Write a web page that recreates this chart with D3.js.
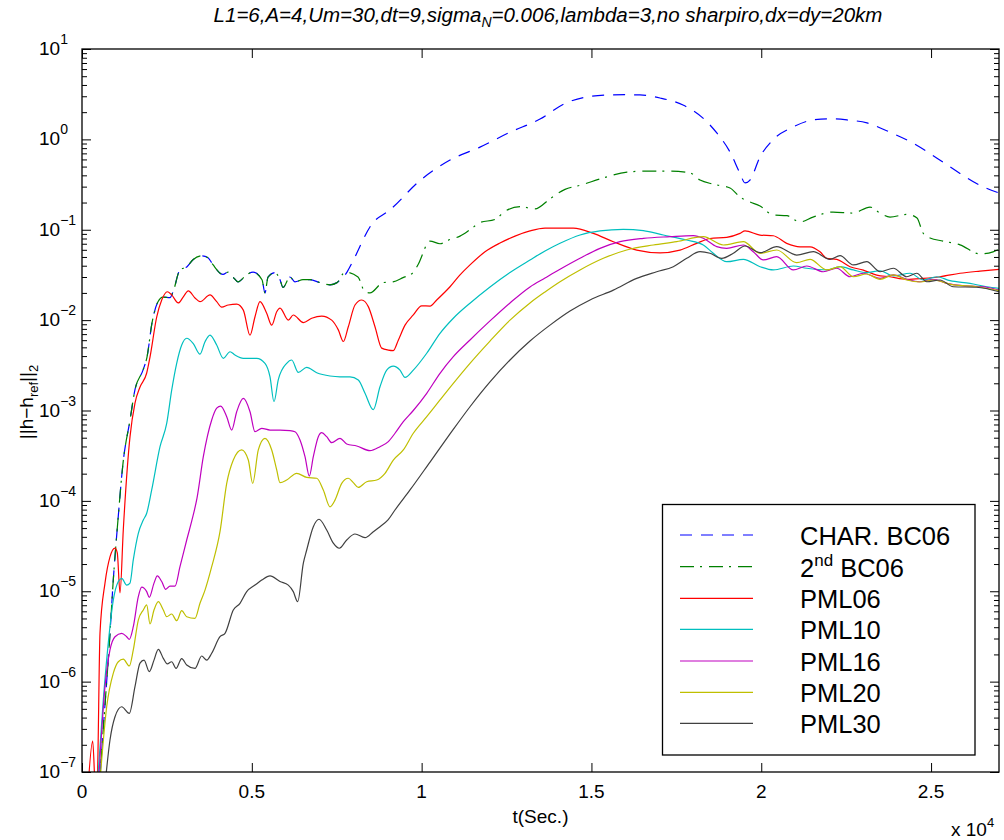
<!DOCTYPE html>
<html><head><meta charset="utf-8">
<script src="https://cdn.jsdelivr.net/npm/d3@7"></script>
<style>
body{margin:0;background:#fff}
svg{display:block}
text{font-family:"Liberation Sans",Arial,Helvetica,sans-serif;fill:#000}
</style>
</head><body>
<svg id="chart" width="1004" height="840"></svg>
<script>
// ---------- data (t in seconds, value = ||h-h_ref||_2) ----------
const xTickValues = [0, 5000, 10000, 15000, 20000, 25000];
const xTickLabels = ["0", "0.5", "1", "1.5", "2", "2.5"];
const yTickExponents = [-7, -6, -5, -4, -3, -2, -1, 0, 1];
const seriesNames = ["CHAR. BC06", "2nd BC06", "PML06", "PML10", "PML16", "PML20", "PML30"];

// common early part of the two BC06 runs
const bcEarly = [[500,6e-8],[618,2.7e-7],[824,3.4e-6],[913,1.2e-5],[1060,6.2e-5],[1207,2.6e-4],[1413,7.8e-4],[1560,1.7e-3],[1796,2.8e-3],[1914,3.9e-3],[2061,9.3e-3],[2238,1.6e-2],[2385,1.8e-2],[2591,1.77e-2],[2680,2.05e-2],[2885,3.6e-2],[3092,3.9e-2],[3268,4.66e-2],[3533,5.15e-2],[3710,4.9e-2],[3857,4.1e-2],[4152,3.2e-2],[4299,3.4e-2],[4446,3.0e-2],[4593,2.65e-2],[4858,3.2e-2],[5035,3.4e-2],[5300,2.8e-2],[5388,2.0e-2],[5477,3.0e-2],[5683,3.35e-2],[5830,2.8e-2],[5918,2.3e-2],[6124,3.0e-2],[6271,2.65e-2],[6507,2.8e-2],[6713,2.8e-2],[7008,2.6e-2],[7302,2.46e-2],[7508,2.6e-2]];
const charTail = [[7803,3.4e-2],[7950,4.3e-2],[8539,0.116],[9069,0.166],[9952,0.35],[10836,0.59],[11719,0.82],[12602,1.2],[13486,1.68],[14222,2.5],[14870,2.95],[15547,3.1],[16047,3.12],[16430,3.1],[17019,2.87],[17696,2.4],[18285,1.72],[18697,1.17],[19080,0.725],[19375,0.42],[19522,0.33],[19669,0.355],[19964,0.64],[20346,0.99],[20935,1.37],[21524,1.64],[22024,1.69],[22525,1.64],[23114,1.52],[23791,1.2],[24468,0.91],[25175,0.62],[25852,0.42],[26441,0.31],[27000,0.255]];
const secondTail = [[7744,3.4e-2],[8127,3.0e-2],[8333,2.05e-2],[8480,2.0e-2],[8863,2.6e-2],[9157,2.65e-2],[9452,2.95e-2],[9746,3.35e-2],[9893,4.1e-2],[10247,7.5e-2],[10541,7.0e-2],[10836,7.8e-2],[11130,8.5e-2],[11424,0.1],[11719,0.12],[12160,0.13],[12455,0.16],[12897,0.18],[13338,0.17],[13780,0.22],[14222,0.28],[14663,0.31],[15340,0.374],[16047,0.435],[16636,0.445],[17313,0.445],[17902,0.425],[18197,0.355],[18579,0.32],[19080,0.29],[19375,0.23],[19669,0.203],[19964,0.183],[20346,0.146],[20758,0.143],[21141,0.122],[21524,0.138],[22113,0.157],[22701,0.153],[23202,0.178],[23497,0.153],[23791,0.138],[24292,0.148],[24586,0.135],[24763,0.092],[24969,0.081],[25352,0.075],[25852,0.068],[26441,0.054],[26824,0.057],[27000,0.061]];
const pml06 = [[170,6e-8],[315,2.2e-7],[400,6e-8],[450,8e-8],[530,3.45e-6],[677,1.23e-5],[824,2.4e-5],[972,3.0e-5],[1039,2.65e-5],[1119,9.6e-6],[1216,4.8e-5],[1413,5.1e-4],[1560,1.21e-3],[1708,1.82e-3],[1905,2.6e-3],[2002,3.9e-3],[2199,1.08e-2],[2347,1.67e-2],[2512,2.06e-2],[2641,1.9e-2],[2835,1.55e-2],[2983,1.81e-2],[3130,2.11e-2],[3327,1.76e-2],[3474,1.6e-2],[3769,1.9e-2],[3966,1.6e-2],[4113,1.39e-2],[4308,1.47e-2],[4555,1.5e-2],[4750,1.29e-2],[4947,6.8e-3],[5094,1.09e-2],[5241,1.6e-2],[5438,1.19e-2],[5586,8.8e-3],[5733,1.24e-2],[5830,1.36e-2],[6074,1.0e-2],[6221,1.14e-2],[6516,9.4e-3],[6763,1.05e-2],[7058,1.11e-2],[7352,1.0e-2],[7547,7.8e-3],[7694,5.8e-3],[7841,8.45e-3],[8038,1.47e-2],[8236,1.67e-2],[8430,1.41e-2],[8627,8.45e-3],[8824,4.9e-3],[9019,4.66e-3],[9166,4.6e-3],[9313,6.0e-3],[9511,8.8e-3],[9755,1.14e-2],[10002,1.44e-2],[10247,1.43e-2],[10444,1.67e-2],[10836,2.34e-2],[11130,3.16e-2],[11424,4.08e-2],[11866,5.7e-2],[12308,7.13e-2],[12749,8.5e-2],[13191,9.7e-2],[13633,0.104],[14075,0.104],[14467,0.104],[15055,9.12e-2],[15644,7.37e-2],[16333,5.96e-2],[17019,5.56e-2],[17608,5.96e-2],[18099,7.07e-2],[18491,8.0e-2],[18982,8.24e-2],[19375,9.12e-2],[19522,9.7e-2],[19964,8.74e-2],[20355,8.58e-2],[20749,7.07e-2],[21141,6.48e-2],[21436,6.48e-2],[21730,5.7e-2],[21927,4.83e-2],[22222,4.7e-2],[22613,3.9e-2],[23005,3.58e-2],[23400,3.15e-2],[23791,3.02e-2],[24282,2.83e-2],[24771,2.9e-2],[25263,3.02e-2],[25852,3.3e-2],[26441,3.49e-2],[27000,3.65e-2]];
const pml10 = [[460,8e-8],[627,6.26e-7],[774,2.68e-6],[922,8.0e-6],[1069,1.28e-5],[1169,1.39e-5],[1316,1.17e-5],[1413,1.23e-5],[1510,2.22e-5],[1658,4.38e-5],[1805,6.15e-5],[1905,7.3e-5],[2052,1.32e-4],[2297,3.98e-4],[2494,7.2e-4],[2641,1.68e-3],[2788,3.33e-3],[2936,5.3e-3],[3083,6.3e-3],[3277,5.5e-3],[3474,4.2e-3],[3622,5.77e-3],[3769,6.84e-3],[3966,5.3e-3],[4161,3.78e-3],[4358,4.47e-3],[4505,4.11e-3],[4750,3.78e-3],[5144,3.78e-3],[5388,3.33e-3],[5536,2.36e-3],[5653,1.25e-3],[5780,2.2e-3],[6027,3.33e-3],[6174,3.62e-3],[6369,2.64e-3],[6616,3.0e-3],[6911,2.62e-3],[7302,2.41e-3],[7597,2.36e-3],[7891,2.36e-3],[8136,2.17e-3],[8333,1.55e-3],[8577,1.02e-3],[8774,1.83e-3],[8972,2.8e-3],[9166,3.1e-3],[9363,2.8e-3],[9511,2.33e-3],[9755,2.8e-3],[10150,4.3e-3],[10541,7.14e-3],[10933,1.05e-2],[11424,1.54e-2],[12013,2.33e-2],[12602,3.37e-2],[13191,4.63e-2],[13633,5.82e-2],[14075,7.08e-2],[14663,8.75e-2],[15252,9.7e-2],[15938,0.101],[16527,9.76e-2],[17116,8.75e-2],[17805,7.7e-2],[18294,6.78e-2],[18588,5.49e-2],[18982,4.43e-2],[19471,4.7e-2],[19964,3.9e-2],[20355,3.59e-2],[20944,3.97e-2],[21339,3.75e-2],[21927,3.59e-2],[22319,3.9e-2],[22711,3.59e-2],[23105,3.35e-2],[23497,3.52e-2],[23889,3.08e-2],[24380,3.3e-2],[24772,2.78e-2],[25166,3.02e-2],[25558,2.73e-2],[26147,2.55e-2],[26639,2.34e-2],[27000,2.25e-2]];
const pml16 = [[490,8e-8],[677,8.8e-7],[824,2.24e-6],[972,3.14e-6],[1169,3.42e-6],[1316,3.14e-6],[1393,2.94e-6],[1510,4.05e-6],[1658,8.7e-6],[1758,1.11e-5],[1905,9.9e-6],[1982,8.57e-6],[2120,1.23e-5],[2217,1.48e-5],[2347,1.28e-5],[2465,1.05e-5],[2591,1.14e-5],[2738,1.14e-5],[2885,1.87e-5],[3083,3.69e-5],[3239,6.15e-5],[3386,1.07e-4],[3572,3.08e-4],[3819,7.85e-4],[3966,1.06e-3],[4084,1.12e-3],[4261,8.54e-4],[4408,6.08e-4],[4555,9.7e-4],[4750,1.36e-3],[4947,9.7e-4],[5094,5.83e-4],[5291,6.35e-4],[5536,6.08e-4],[5830,6.08e-4],[6124,6.0e-4],[6271,5.83e-4],[6419,4.72e-4],[6566,3.08e-4],[6693,1.88e-4],[6811,3.08e-4],[6958,5.13e-4],[7058,5.68e-4],[7205,5.13e-4],[7352,4.4e-4],[7597,4.92e-4],[7794,4.26e-4],[8089,4.05e-4],[8480,3.59e-4],[8774,3.98e-4],[9019,4.52e-4],[9216,5.6e-4],[9461,7.52e-4],[9755,1.0e-3],[10150,1.55e-3],[10541,2.58e-3],[10933,3.94e-3],[11424,6.03e-3],[12013,9.8e-3],[12602,1.55e-2],[13191,2.33e-2],[13633,2.92e-2],[14075,3.65e-2],[14663,4.83e-2],[15252,6.23e-2],[15841,7.38e-2],[16527,8.04e-2],[17313,8.38e-2],[17999,8.6e-2],[18294,8.04e-2],[18688,6.5e-2],[18982,6.23e-2],[19471,6.78e-2],[19765,5.72e-2],[20060,4.63e-2],[20454,5.03e-2],[20944,3.59e-2],[21339,3.97e-2],[21827,3.43e-2],[22222,3.75e-2],[22613,3.02e-2],[23005,3.3e-2],[23497,2.9e-2],[23889,3.16e-2],[24282,2.83e-2],[24674,2.66e-2],[25066,2.83e-2],[25460,2.55e-2],[26049,2.39e-2],[26638,2.31e-2],[27000,2.15e-2]];
const pml20 = [[530,8e-8],[727,5.27e-7],[922,1.24e-6],[1069,1.66e-6],[1216,1.77e-6],[1393,1.49e-6],[1510,2.24e-6],[1658,4.8e-6],[1805,6.2e-6],[1905,7.05e-6],[2002,4.34e-6],[2120,6.2e-6],[2247,7.66e-6],[2394,6.2e-6],[2494,5.23e-6],[2641,5.6e-6],[2788,4.72e-6],[2936,6.09e-6],[3083,5.23e-6],[3327,5.02e-6],[3474,7.36e-6],[3622,1.03e-5],[3819,1.87e-5],[4063,4.56e-5],[4261,1.56e-4],[4455,2.83e-4],[4702,3.66e-4],[4897,2.83e-4],[5026,1.56e-4],[5191,3.66e-4],[5388,4.92e-4],[5586,3.66e-4],[5733,2.2e-4],[5830,1.59e-4],[6027,1.7e-4],[6321,2.02e-4],[6616,1.82e-4],[6911,1.78e-4],[7105,1.32e-4],[7302,8.6e-5],[7449,1.02e-4],[7647,1.56e-4],[7841,1.78e-4],[7988,1.59e-4],[8136,1.41e-4],[8383,1.63e-4],[8677,1.7e-4],[8922,2.02e-4],[9166,2.83e-4],[9461,3.66e-4],[9755,5.6e-4],[10150,8.54e-4],[10541,1.31e-3],[10933,2.0e-3],[11424,3.33e-3],[12013,5.87e-3],[12602,1.0e-2],[13191,1.55e-2],[13633,2.05e-2],[14075,2.66e-2],[14663,3.59e-2],[15350,4.83e-2],[16038,5.97e-2],[16822,6.78e-2],[17510,7.38e-2],[18294,8.38e-2],[18883,6.78e-2],[19471,7.38e-2],[19964,5.49e-2],[20455,5.97e-2],[21044,4.32e-2],[21436,4.7e-2],[21927,3.59e-2],[22319,3.9e-2],[22711,3.02e-2],[23105,3.24e-2],[23497,2.83e-2],[23889,3.16e-2],[24282,2.78e-2],[24674,2.64e-2],[25066,2.78e-2],[25655,2.45e-2],[26344,2.34e-2],[27000,2.12e-2]];
const pml30 = [[690,8e-8],[824,2.26e-7],[972,4.09e-7],[1169,5.27e-7],[1393,4.46e-7],[1560,8.8e-7],[1708,1.6e-6],[1826,1.73e-6],[1982,1.29e-6],[2120,1.73e-6],[2247,2.28e-6],[2394,1.81e-6],[2512,1.57e-6],[2641,1.66e-6],[2768,1.4e-6],[2936,1.8e-6],[3083,1.53e-6],[3327,1.4e-6],[3524,1.92e-6],[3672,1.73e-6],[3819,2.06e-6],[4063,3.14e-6],[4211,3.42e-6],[4455,6.2e-6],[4652,7.36e-6],[4850,9.9e-6],[5094,1.17e-5],[5291,1.33e-5],[5536,1.48e-5],[5830,1.28e-5],[6074,1.17e-5],[6221,9.9e-6],[6351,7.66e-6],[6516,2.04e-5],[6616,2.86e-5],[6811,5.18e-5],[6978,6.26e-5],[7205,4.76e-5],[7400,3.4e-5],[7576,2.99e-5],[7794,3.69e-5],[8038,4.3e-5],[8333,3.92e-5],[8577,4.56e-5],[8774,5.18e-5],[9010,6.15e-5],[9216,7.93e-5],[9658,1.32e-4],[10247,2.69e-4],[10836,5.5e-4],[11424,1.1e-3],[12013,2.07e-3],[12602,3.62e-3],[13191,5.87e-3],[13780,8.8e-3],[14369,1.26e-2],[14958,1.67e-2],[15644,2.15e-2],[16333,2.9e-2],[16922,3.43e-2],[17411,3.9e-2],[17805,4.83e-2],[18197,5.72e-2],[18491,5.49e-2],[18835,4.83e-2],[19177,5.49e-2],[19522,6.61e-2],[19964,5.57e-2],[20455,6.5e-2],[21044,5.25e-2],[21533,5.72e-2],[22024,4.7e-2],[22319,5.16e-2],[22711,4.08e-2],[23105,4.43e-2],[23497,3.43e-2],[23889,3.75e-2],[24282,3.02e-2],[24577,3.3e-2],[24871,2.66e-2],[25263,2.78e-2],[25655,2.34e-2],[26344,2.31e-2],[27000,2.06e-2]];

// ---------- styles ----------
const seriesData = [bcEarly.concat(charTail), bcEarly.concat(secondTail), pml06, pml10, pml16, pml20, pml30];
const seriesColors = ["#0000ff", "#008000", "#ff0000", "#00bfbf", "#bf00bf", "#bfbf00", "#404040"];
const seriesDash = ["12,9", "14,6,2,7", null, null, null, null, null];

const svg = d3.select("#chart");
const L = 82, R = 999, T = 49, B = 772;
const x = d3.scaleLinear().domain([0, 27000]).range([L, R]);
const y = d3.scaleLog().domain([1e-7, 10]).range([B, T]);

svg.append("defs").append("clipPath").attr("id", "plotclip")
  .append("rect").attr("x", L).attr("y", T).attr("width", R - L).attr("height", B - T);

// lines
const line = d3.line().x(d => x(d[0])).y(d => y(d[1])).curve(d3.curveMonotoneX);
const lg = svg.append("g").attr("clip-path", "url(#plotclip)");
seriesData.forEach((s, i) => {
  lg.append("path").attr("d", line(s)).attr("fill", "none")
    .attr("stroke", seriesColors[i]).attr("stroke-width", 1.2)
    .attr("stroke-dasharray", seriesDash[i]);
});

// axes with inward ticks
const majorY = yTickExponents.map(e => Math.pow(10, e));
const minorY = [];
yTickExponents.slice(0, -1).forEach(e => { for (let m = 2; m <= 9; m++) minorY.push(m * Math.pow(10, e)); });
function clean(g) { g.select(".domain").remove(); g.selectAll("text").remove(); g.selectAll("line").attr("stroke", "#000").attr("stroke-width", 1); }
svg.append("g").attr("transform", `translate(0,${B})`).call(d3.axisBottom(x).tickValues(xTickValues).tickSize(-9)).call(clean);
svg.append("g").attr("transform", `translate(0,${T})`).call(d3.axisTop(x).tickValues(xTickValues).tickSize(-9)).call(clean);
svg.append("g").attr("transform", `translate(${L},0)`).call(d3.axisLeft(y).tickValues(majorY).tickSize(-9)).call(clean);
svg.append("g").attr("transform", `translate(${R},0)`).call(d3.axisRight(y).tickValues(majorY).tickSize(-9)).call(clean);
svg.append("g").attr("transform", `translate(${L},0)`).call(d3.axisLeft(y).tickValues(minorY).tickSize(-5)).call(clean);
svg.append("g").attr("transform", `translate(${R},0)`).call(d3.axisRight(y).tickValues(minorY).tickSize(-5)).call(clean);
svg.append("rect").attr("x", L).attr("y", T).attr("width", R - L).attr("height", B - T)
  .attr("fill", "none").attr("stroke", "#000").attr("stroke-width", 1.3);

// tick labels
svg.append("g").selectAll("text").data(xTickValues).join("text")
  .attr("x", d => x(d)).attr("y", B + 26).attr("text-anchor", "middle")
  .attr("font-size", 19).text((d, i) => xTickLabels[i]);
const yl = svg.append("g").selectAll("text").data(yTickExponents).join("text")
  .attr("x", 39).attr("y", d => y(Math.pow(10, d)) + 6).attr("font-size", 19);
yl.append("tspan").text("10");
yl.append("tspan").attr("font-size", 14).attr("dy", -11).text(d => (d < 0 ? "\u2212" + (-d) : "" + d));

// axis labels
svg.append("text").attr("x", (L + R) / 2).attr("y", 823).attr("text-anchor", "middle").attr("font-size", 19).text("t(Sec.)");
const xm = svg.append("text").attr("x", 951).attr("y", 836).attr("font-size", 19);
xm.append("tspan").text("x 10");
xm.append("tspan").attr("font-size", 13).attr("dy", -9).text("4");

const ylab = svg.append("text").attr("transform", "translate(33,402) rotate(-90)").attr("text-anchor", "middle").attr("font-size", 19);
ylab.append("tspan").text("||h\u2212h");
ylab.append("tspan").attr("font-size", 13).attr("dy", 5).text("ref");
ylab.append("tspan").attr("dy", -5).text("||");
ylab.append("tspan").attr("font-size", 13).attr("dy", 5).text("2");

// title
const title = svg.append("text").attr("x", 548).attr("y", 22).attr("text-anchor", "middle")
  .attr("font-size", 20.5).attr("font-style", "italic");
title.append("tspan").text("L1=6,A=4,Um=30,dt=9,sigma");
title.append("tspan").attr("font-size", 14).attr("dy", 5).text("N");
title.append("tspan").attr("dy", -5).text("=0.006,lambda=3,no sharpiro,dx=dy=20km");

// legend
const leg = svg.append("g");
leg.append("rect").attr("x", 662.5).attr("y", 504.5).attr("width", 312.5).attr("height", 250.5)
  .attr("fill", "#fff").attr("stroke", "#000").attr("stroke-width", 1.3);
const rowY = [535, 566.7, 598.3, 629.3, 661, 692.3, 723.3];
seriesNames.forEach((n, i) => {
  leg.append("line").attr("x1", 680).attr("x2", 753).attr("y1", rowY[i]).attr("y2", rowY[i])
    .attr("stroke", seriesColors[i]).attr("stroke-width", 1.2).attr("stroke-dasharray", seriesDash[i]);
  const t = leg.append("text").attr("x", 800).attr("y", rowY[i] + 10).attr("font-size", 25.5);
  if (n.startsWith("2nd")) {
    t.append("tspan").text("2");
    t.append("tspan").attr("font-size", 17).attr("dy", -11).text("nd");
    t.append("tspan").attr("dy", 11).text(" BC06");
  } else {
    t.text(n);
  }
});
</script>
</body></html>
